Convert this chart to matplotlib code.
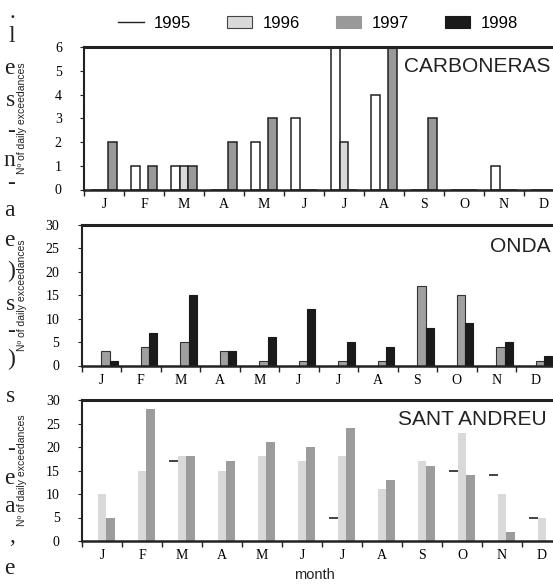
import numpy as np
import matplotlib.pyplot as plt
from matplotlib.lines import Line2D
from matplotlib.patches import Patch

plt.rcParams["font.family"] = ["Liberation Serif", "DejaVu Serif"]
SANS = ["Liberation Sans", "DejaVu Sans"]

months = ["J", "F", "M", "A", "M", "J", "J", "A", "S", "O", "N", "D"]
years = ["1995", "1996", "1997", "1998"]

# CARBONERAS (nº of daily exceedances per month)
carb_1995 = [0, 1, 1, 0, 2, 3, 6, 4, 0, 0, 1, 0]
carb_1996 = [0, 0, 1, 0, 0, 0, 2, 0, 0, 0, 0, 0]
carb_1997 = [2, 1, 1, 2, 3, 0, 0, 6, 3, 0, 0, 0]

# ONDA
onda_1997 = [3, 4, 5, 3, 1, 1, 1, 1, 17, 15, 4, 1]
onda_1998 = [1, 7, 15, 3, 6, 12, 5, 4, 8, 9, 5, 2]

# SANT ANDREU
sa_1995 = [0, 0, 17, 0, 0, 0, 5, 0, 0, 15, 14, 5]
sa_1996 = [10, 15, 18, 15, 18, 17, 18, 11, 17, 23, 10, 5]
sa_1997 = [5, 28, 18, 17, 21, 20, 24, 13, 16, 14, 2, 0]

# bits of the page text cut at the left edge
page_chars = [".", "l", "e", "s", "-", "n", "-", "a", "e", ")", "s", "-", ")",
              "s", "-", "e", "a", ",", "e"]
page_rows = [12, 36, 68, 100, 131, 160, 184, 210, 241, 271, 305, 331, 359,
             396, 450, 478, 506, 536, 568]

c95, c96, c97, c98 = "white", "#d9d9d9", "#999999", "#1a1a1a"
W, H = 553, 587
bw = 0.21
x = np.arange(12) + 0.5


def slot(k, n):
    return x + (k - (n - 1) / 2) * bw


def setup(ax, ymax, step, name, nx, ny):
    ax.set_xlim(0, 12)
    ax.set_ylim(0, ymax)
    ax.set_yticks(np.arange(0, ymax + 1, step))
    ax.set_xticks(np.arange(13))
    ax.set_xticklabels([])
    ax.set_xticks(x, minor=True)
    ax.set_xticklabels(months, minor=True, fontsize=10)
    ax.tick_params(axis="x", which="minor", length=0, pad=6)
    ax.tick_params(axis="x", which="major", length=4, width=1, color="#222")
    ax.tick_params(axis="y", length=3, width=0.8, pad=13, labelsize=10, color="#222")
    ax.spines["top"].set_linewidth(2.2)
    ax.spines["left"].set_linewidth(1.5)
    ax.spines["bottom"].set_linewidth(1.8)
    ax.spines["right"].set_visible(False)
    for s in ax.spines.values():
        s.set_color("#222")
    ax.text(nx, ny, name, transform=ax.transAxes, ha="left", va="center",
            fontsize=15, family=SANS, color="#222")


fig = plt.figure(figsize=(W / 100, H / 100), dpi=100)

ax1 = fig.add_axes([84 / W, 1 - 189.5 / H, 480 / W, 142.5 / H])
ax1.bar(slot(0, 3), carb_1995, bw, color=c95, edgecolor="#222", lw=1.1)
ax1.bar(slot(1, 3), carb_1996, bw, color=c96, edgecolor="#222", lw=1.1)
ax1.bar(slot(2, 3), carb_1997, bw, color=c97, edgecolor="#222", lw=1.1)
setup(ax1, 6, 1, "CARBONERAS", 0.667, 0.862)

ax2 = fig.add_axes([81.5 / W, 1 - 365.5 / H, 474 / W, 140.5 / H])
ax2.bar(slot(2, 4), onda_1997, bw, color="#a0a0a0", edgecolor="#333", lw=0.8)
ax2.bar(slot(3, 4), onda_1998, bw, color=c98, edgecolor=c98, lw=0.8)
setup(ax2, 30, 5, "ONDA", 0.862, 0.846)

ax3 = fig.add_axes([82 / W, 1 - 541 / H, 480 / W, 141 / H])
ax3.bar(slot(0, 3), sa_1995, bw, color=c95, edgecolor="none")
tops = np.array(sa_1995)
ax3.hlines(tops[tops > 0], slot(0, 3)[tops > 0] - bw / 2, slot(0, 3)[tops > 0] + bw / 2,
           color="#222", lw=1.2)
ax3.bar(slot(1, 3), sa_1996, bw, color=c96, edgecolor="none")
ax3.bar(slot(2, 3), sa_1997, bw, color="#9c9c9c", edgecolor="none")
setup(ax3, 30, 5, "SANT ANDREU", 0.659, 0.865)

for ax in [ax1, ax2, ax3]:
    pos = ax.get_position()
    fig.text(22 / W, pos.y0 + pos.height / 2, "Nº of daily exceedances", rotation=90,
             ha="center", va="center", fontsize=7.5, family=SANS, color="#222")

fig.text(314 / W, 1 - 575 / H, "month", ha="center", va="center",
         fontsize=10.5, family=SANS, color="#222")

handles = [Line2D([0], [0], color="#222", lw=1),
           Patch(facecolor=c96, edgecolor="#444", lw=0.8),
           Patch(facecolor=c97, edgecolor="#999999", lw=0.8),
           Patch(facecolor=c98, edgecolor=c98, lw=0.8)]
fig.legend(handles, years, loc="center", bbox_to_anchor=(318 / W, 1 - 23 / H), ncol=4,
           frameon=False, handlelength=1.5, handletextpad=0.6, columnspacing=2.2,
           prop={"family": SANS, "size": 12})

for ch, row in zip(page_chars, page_rows):
    fig.text(15 / W, 1 - row / H, ch, ha="right", va="center", fontsize=17, color="#222")

fig.savefig("out.png", dpi=100)
